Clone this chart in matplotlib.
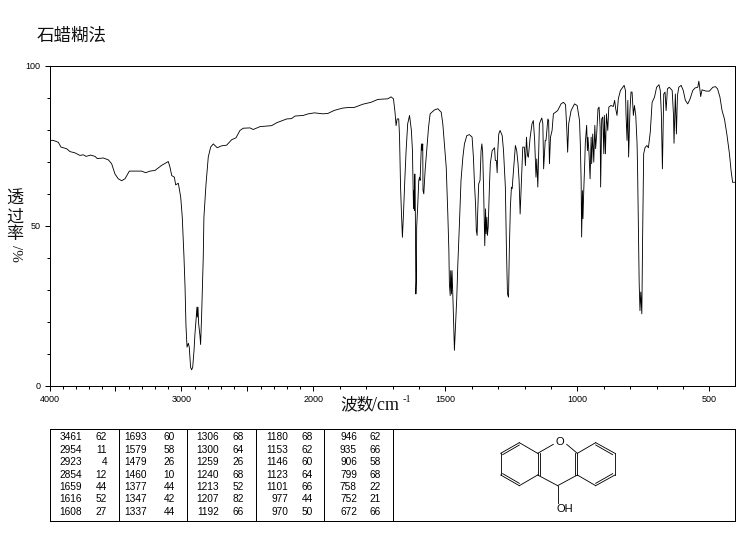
"""石蜡糊法红外谱图：上方透过率曲线，下方峰值表 + 结构式。"""
import matplotlib
matplotlib.use("Agg")
import matplotlib.pyplot as plt
import numpy as np
from matplotlib.ticker import FixedLocator, NullFormatter

W, H = 743, 539
CJK = ["Noto Sans CJK SC", "DejaVu Sans"]
NUM = "Liberation Sans"
LW = 0.72  # 1 px
THIN = 0.62  # 曲线、结构式

# 读图得到的谱线：波数 / 透过率
wavenumber = [
    4000, 3971, 3933, 3913, 3870, 3845, 3807, 3769, 3744, 3723, 3688, 3655, 3638, 3592, 3554, 3529,
    3504, 3479, 3453, 3428, 3395, 3302, 3271, 3239, 3201, 3150, 3100, 3087, 3074, 3054, 3044, 3024,
    3006, 2994, 2981, 2973, 2966, 2958, 2948, 2941, 2931, 2923, 2915, 2905, 2898, 2888, 2883, 2880,
    2875, 2870, 2860, 2855, 2847, 2835, 2830, 2814, 2797, 2779, 2759, 2729, 2696, 2658, 2620, 2587,
    2557, 2532, 2481, 2456, 2405, 2317, 2279, 2203, 2166, 2140, 2077, 2039, 1996, 1965, 1946, 1920,
    1889, 1864, 1845, 1813, 1782, 1756, 1718, 1706, 1697, 1691, 1687, 1683, 1677, 1674, 1670, 1667,
    1663, 1659, 1654, 1649, 1643, 1636, 1633, 1629, 1625, 1622, 1621, 1619, 1617, 1616, 1614, 1612,
    1610, 1609, 1605, 1601, 1598, 1596, 1591, 1588, 1586, 1585, 1582, 1577, 1571, 1564, 1558, 1542,
    1529, 1516, 1510, 1504, 1497, 1491, 1487, 1485, 1482, 1480, 1477, 1475, 1471, 1466, 1462, 1457,
    1453, 1450, 1447, 1441, 1434, 1428, 1419, 1409, 1399, 1394, 1390, 1386, 1383, 1380, 1378, 1374,
    1369, 1365, 1362, 1359, 1355, 1351, 1348, 1346, 1343, 1341, 1338, 1333, 1330, 1323, 1314, 1311,
    1307, 1304, 1302, 1298, 1293, 1285, 1280, 1273, 1269, 1265, 1261, 1258, 1254, 1250, 1247, 1245,
    1239, 1235, 1230, 1225, 1221, 1217, 1213, 1207, 1201, 1197, 1193, 1189, 1186, 1179, 1172, 1167,
    1162, 1157, 1154, 1150, 1144, 1135, 1131, 1128, 1122, 1119, 1112, 1109, 1106, 1102, 1096, 1091,
    1075, 1062, 1053, 1045, 1040, 1037, 1033, 1024, 1011, 1001, 992, 989, 986, 984, 981, 979,
    976, 972, 970, 965, 962, 960, 956, 952, 948, 946, 942, 938, 934, 931, 927, 922,
    918, 914, 912, 908, 904, 900, 898, 894, 890, 885, 881, 873, 864, 859, 855, 850,
    845, 837, 823, 818, 816, 812, 809, 806, 801, 797, 793, 788, 784, 779, 774, 772,
    769, 766, 763, 760, 756, 753, 749, 744, 737, 731, 724, 717, 708, 700, 691, 686,
    682, 678, 673, 668, 664, 659, 652, 641, 636, 634, 629, 625, 621, 616, 607, 599,
    591, 582, 573, 563, 554, 544, 540, 537, 533, 528, 513, 500, 487, 477, 469, 460,
    452, 443, 434, 424, 418, 412, 405,
]
transmittance = [
    76.6, 76.6, 76.0, 74.5, 74.0, 73.1, 72.7, 71.9, 72.1, 71.6, 72.0, 71.6, 70.9, 71.1, 70.5, 69.3,
    66.1, 64.6, 64.0, 64.6, 67.0, 67.0, 66.5, 67.0, 67.2, 68.8, 70.0, 68.2, 65.6, 65.1, 62.7, 63.2,
    58.9, 52.6, 40.1, 30.7, 18.7, 12.0, 13.2, 12.0, 5.7, 4.9, 5.7, 10.9, 16.1, 21.4, 24.5, 21.4,
    24.5, 19.3, 15.6, 12.8, 22.4, 40.1, 52.6, 63.0, 71.4, 74.5, 75.5, 74.3, 74.9, 75.1, 76.8, 77.4,
    79.7, 80.4, 80.5, 80.0, 80.9, 81.2, 82.1, 83.3, 83.4, 84.2, 84.4, 84.9, 85.2, 84.9, 85.0, 86.0,
    86.7, 86.9, 86.9, 87.9, 88.5, 89.4, 89.6, 90.2, 89.6, 85.4, 81.2, 83.3, 83.3, 78.1, 62.0, 54.7,
    46.3, 53.6, 64.1, 73.4, 81.8, 84.4, 82.3, 79.7, 73.4, 61.0, 55.2, 61.0, 54.7, 66.1, 53.6, 28.6,
    32.8, 49.5, 56.2, 64.1, 65.1, 64.1, 75.5, 73.4, 75.5, 61.0, 59.9, 67.2, 73.4, 80.7, 84.9, 86.1,
    86.5, 85.4, 81.8, 75.5, 68.2, 53.6, 42.2, 31.8, 28.1, 35.9, 28.6, 35.9, 25.5, 11.0, 18.2, 27.6,
    38.0, 44.3, 50.5, 64.1, 71.3, 75.5, 78.1, 78.4, 77.6, 71.3, 63.0, 56.8, 48.4, 46.9, 53.6, 63.0,
    64.1, 73.4, 75.5, 72.9, 59.9, 43.7, 55.2, 47.4, 52.6, 46.9, 49.5, 63.0, 69.3, 73.4, 74.3, 70.3,
    70.3, 66.5, 72.9, 78.6, 79.7, 78.1, 73.4, 62.0, 43.2, 28.6, 27.6, 42.2, 55.7, 62.0, 61.5, 64.1,
    70.8, 75.0, 73.4, 69.3, 64.1, 53.6, 62.0, 74.5, 74.5, 68.7, 77.6, 71.9, 71.3, 77.6, 81.8, 82.8,
    76.6, 65.1, 70.8, 62.0, 81.8, 83.6, 81.8, 67.7, 76.6, 76.6, 83.3, 82.8, 69.3, 77.6, 79.7, 84.9,
    85.9, 88.0, 88.5, 87.8, 79.7, 72.9, 81.8, 85.9, 88.0, 87.5, 82.8, 75.5, 64.1, 46.4, 60.9, 52.1,
    60.9, 70.3, 76.0, 81.3, 73.4, 77.6, 72.4, 64.6, 77.6, 69.3, 78.6, 69.8, 81.3, 74.0, 78.6, 86.5,
    87.0, 80.7, 62.0, 83.3, 83.9, 72.4, 84.4, 72.4, 84.9, 79.7, 87.0, 87.5, 87.2, 89.1, 86.5, 84.4,
    89.6, 92.2, 93.8, 92.2, 84.9, 76.6, 89.1, 71.4, 85.9, 91.7, 91.7, 84.4, 87.5, 84.4, 75.5, 67.2,
    48.4, 31.8, 23.4, 29.2, 22.4, 46.4, 72.4, 74.3, 75.0, 74.3, 79.2, 88.5, 90.1, 93.2, 94.0, 92.2,
    84.9, 67.7, 91.1, 91.7, 85.9, 92.7, 93.2, 92.2, 84.4, 75.7, 91.1, 78.6, 90.6, 93.2, 93.8, 92.2,
    89.1, 88.0, 89.6, 92.2, 93.0, 93.2, 95.1, 93.2, 90.3, 92.4, 92.0, 92.0, 93.2, 93.4, 92.7, 90.1,
    85.9, 83.3, 78.6, 72.4, 67.2, 63.5, 63.5,
]

x_major = [4000, 3500, 3000, 2500, 2000, 1500, 1000, 500]
x_labels = ["4000", "", "3000", "", "2000", "1500", "1000", "500"]
x_minor = list(range(4000, 399, -100))
y_major = [0, 50, 100]
y_minor = list(range(0, 101, 10))

# 峰值表：五栏，每栏七行
peak_wn = [
    [3461, 2954, 2923, 2854, 1659, 1616, 1608],
    [1693, 1579, 1479, 1460, 1377, 1347, 1337],
    [1306, 1300, 1259, 1240, 1213, 1207, 1192],
    [1180, 1153, 1146, 1123, 1101, 977, 970],
    [946, 935, 906, 799, 758, 752, 672],
]
peak_t = [
    [62, 11, 4, 12, 44, 52, 27],
    [60, 58, 26, 10, 44, 42, 44],
    [68, 64, 26, 68, 52, 82, 66],
    [68, 62, 60, 64, 66, 44, 50],
    [62, 66, 58, 68, 22, 21, 66],
]


# 横轴分段：2000 以上每 1000 波数 132 px，2000 以下 264 px
def _fwd(v):
    v = np.asarray(v, dtype=float)
    return np.where(v >= 2000, (v - 2000) * 0.132, (v - 2000) * 0.264)


def _inv(p):
    p = np.asarray(p, dtype=float)
    return np.where(p >= 0, p / 0.132 + 2000, p / 0.264 + 2000)


fig = plt.figure(figsize=(W / 100, H / 100), dpi=100)

# —— 谱图 ——
ax = fig.add_axes([49.5 / W, 1 - 385.5 / H, 685.5 / W, 320 / H])
ax.set_xscale("function", functions=(_fwd, _inv))
ax.plot(wavenumber, transmittance, color="black", lw=THIN)
ax.set_xticks(x_major, x_labels, fontsize=6.5, family=NUM)
ax.xaxis.set_minor_locator(FixedLocator(x_minor))
ax.xaxis.set_minor_formatter(NullFormatter())
ax.set_yticks(y_major, [str(v) for v in y_major], fontsize=6.5, family=NUM)
ax.yaxis.set_minor_locator(FixedLocator(y_minor))
ax.set_xlim(4000, 403)
ax.set_ylim(0, 100)
ax.tick_params(which="major", length=3.6, width=LW, pad=3)
ax.tick_params(which="minor", length=2, width=LW)
for s in ax.spines.values():
    s.set_linewidth(LW)

# —— 像素坐标的覆盖层：标题、轴名、表格、结构式 ——
ov = fig.add_axes([0, 0, 1, 1])
ov.set_xlim(0, W)
ov.set_ylim(H, 0)
ov.axis("off")

ov.text(37, 36, "石蜡糊法", fontsize=12.6, family=CJK, ha="left", va="center", color="#111")
for ch, yc in zip("透过率", (199, 217, 234)):
    ov.text(15, yc, ch, fontsize=12.3, family=CJK, ha="center", va="center", color="#111")
ov.text(15, 253, "/%", fontsize=11, family="Liberation Serif", rotation=-90,
        ha="center", va="center", color="#111")
ov.text(340, 405, "波数", fontsize=12, family=CJK, ha="left", va="center", color="#111")
ov.text(372, 406, "/cm", fontsize=13, family="Liberation Serif", ha="left", va="center", color="#111")
ov.text(403, 400, "-1", fontsize=7.5, family="Liberation Serif", ha="left", va="center", color="#111")

# 表格外框与分栏线
box_l, box_r, box_t, box_b = 49.5, 734.5, 428.5, 520.5
ov.plot([box_l, box_r, box_r, box_l, box_l], [box_t, box_t, box_b, box_b, box_t],
        color="black", lw=LW, antialiased=False)
for xd in (118.5, 186.5, 255.5, 323.5, 392.5):
    ov.plot([xd, xd], [box_t, box_b], color="black", lw=LW, antialiased=False)

row_y = [437.5, 449.7, 462.3, 474.7, 487, 499.3, 512.3]
col_wn_x = [82, 147, 219, 288, 357]
col_t_x = [107, 175, 244, 313, 381]
for c in range(5):
    for r, y in enumerate(row_y):
        ov.text(col_wn_x[c], y, str(peak_wn[c][r]), fontsize=7.3, family=NUM,
                ha="right", va="center")
        ov.text(col_t_x[c], y, str(peak_t[c][r]), fontsize=7.3, family=NUM,
                ha="right", va="center")


# 结构式（放大图上的坐标换算到原图）
def _bond(x0, y0, x1, y1):
    ov.plot([390 + x0 / 3, 390 + x1 / 3], [420 + y0 / 3, 420 + y1 / 3],
            color="black", lw=THIN)


left_ring = [(332, 100), (388, 68), (443, 100), (443, 165), (388, 197), (332, 165)]
right_ring = [(562, 100), (617, 68), (675, 100), (675, 165), (617, 197), (562, 165)]
for ring in (left_ring, right_ring):
    for i in range(6):
        _bond(*ring[i], *ring[(i + 1) % 6])
_bond(338, 104, 388, 75)
_bond(338, 161, 388, 190)
_bond(450, 100, 450, 165)
_bond(556, 100, 556, 165)
_bond(617, 75, 668, 104)
_bond(617, 190, 668, 161)
_bond(443, 100, 490, 73)
_bond(530, 73, 562, 100)
_bond(443, 165, 503, 197)
_bond(503, 197, 562, 165)
_bond(503, 197, 503, 250)
ov.text(390 + 510 / 3, 420 + 66 / 3, "O", fontsize=8, family=NUM, ha="center", va="center")
ov.text(390 + 523 / 3, 420 + 268 / 3, "OH", fontsize=8, family=NUM, ha="center", va="center")

fig.savefig("out.png", dpi=100)
